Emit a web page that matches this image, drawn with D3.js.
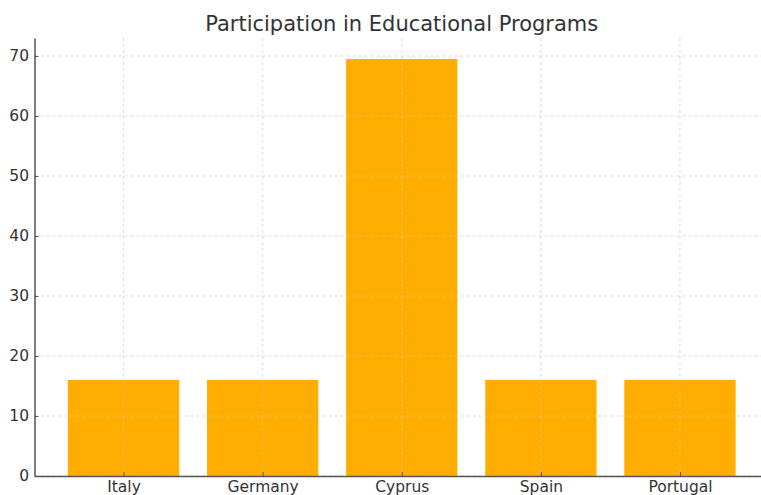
<!DOCTYPE html>
<html><head><meta charset="utf-8">
<script src="https://cdn.jsdelivr.net/npm/d3@7"></script>
<style>
html,body{margin:0;padding:0;background:#fff;}
svg{display:block;font-family:"DejaVu Sans",sans-serif;}
</style></head>
<body>
<svg id="chart" width="761" height="495"></svg>
<script>
const categories = ["Italy","Germany","Cyprus","Spain","Portugal"];
const values = [16, 16, 69.5, 16, 16];
const yTicks = [0,10,20,30,40,50,60,70];
const title = "Participation in Educational Programs";

(function(){
const svg = d3.select("#chart");
const mLeft = 34.5, mRight = 769, mTop = 38, mBottom = 476;

const x = d3.scaleLinear().domain([-0.64, categories.length - 1 + 0.64]).range([mLeft, mRight]);
const y = d3.scaleLinear().domain([0, 73]).range([mBottom, mTop]);
const bw = x(0.8) - x(0);

function grid(opacity) {
  svg.append("g").selectAll("line").data(yTicks).join("line")
    .attr("x1", mLeft).attr("x2", mRight)
    .attr("y1", d => y(d)).attr("y2", d => y(d))
    .attr("stroke", "#d9d9d9").attr("stroke-opacity", opacity).attr("stroke-width", 0.8).attr("stroke-dasharray", "3,3");
  svg.append("g").selectAll("line").data(categories).join("line")
    .attr("x1", (d,i) => x(i)).attr("x2", (d,i) => x(i))
    .attr("y1", mTop).attr("y2", mBottom)
    .attr("stroke", "#d9d9d9").attr("stroke-opacity", opacity).attr("stroke-width", 0.8).attr("stroke-dasharray", "3,3");
}
grid(1);

svg.append("g").selectAll("rect").data(values).join("rect")
  .attr("x", (d,i) => x(i) - bw/2)
  .attr("width", bw)
  .attr("y", d => y(d))
  .attr("height", d => mBottom - y(d))
  .attr("fill", "#ffad00");

grid(0.5);

const yAxis = d3.axisLeft(y).tickValues(yTicks).tickSizeInner(-4).tickSizeOuter(0).tickPadding(5.5);
const ya = svg.append("g").attr("transform", `translate(${mLeft},0)`).call(yAxis);
ya.select(".domain").attr("stroke", "#555").attr("stroke-width", 1.5);
ya.selectAll(".tick line").attr("stroke", "#555");
ya.selectAll("text").attr("fill", "#333").attr("font-size", 15.5).attr("font-family", "DejaVu Sans");

const xAxis = d3.axisBottom(x).tickValues(d3.range(categories.length)).tickFormat(i => categories[i])
  .tickSizeInner(-4).tickSizeOuter(0).tickPadding(5);
const xa = svg.append("g").attr("transform", `translate(0,${mBottom})`).call(xAxis);
xa.select(".domain").attr("stroke", "#555").attr("stroke-width", 1.5);
xa.selectAll(".tick line").attr("stroke", "#555");
xa.selectAll("text").attr("fill", "#333").attr("font-size", 15.5).attr("font-family", "DejaVu Sans")
  .attr("y", 16).attr("dy", 0);

svg.append("text").attr("x", (mLeft + mRight)/2).attr("y", 31)
  .attr("text-anchor", "middle").attr("fill", "#333").attr("font-size", 21)
  .attr("font-family", "DejaVu Sans")
  .text(title);
})();
</script>
</body></html>
